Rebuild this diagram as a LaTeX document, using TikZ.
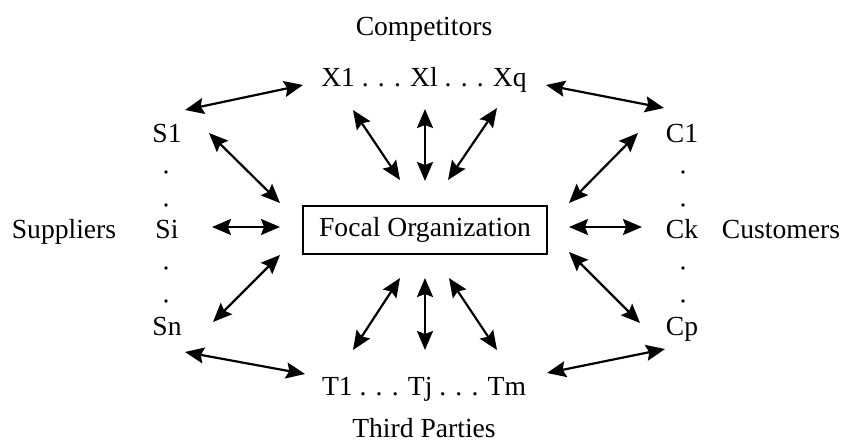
\documentclass[tikz,border=0pt]{standalone}
\usepackage{fontspec}
\setmainfont{Liberation Serif}
\usetikzlibrary{arrows.meta}
\begin{document}
\begin{tikzpicture}[x=0.5pt,y=-0.5pt,
  lbl/.style={anchor=base,inner sep=0pt,font=\fontsize{13.8}{16}\selectfont},
  tip/.style={Stealth[length=9.5pt,width=8pt,inset=1.5pt]},
  arr/.style={{Stealth[length=9.5pt,width=8pt,inset=1.5pt]}-{Stealth[length=9.5pt,width=8pt,inset=1.5pt]},line width=1.1pt},
  focal/.style={draw,line width=0.8pt,minimum width=122pt,minimum height=24pt,inner sep=0pt,font=\fontsize{13.8}{16}\selectfont},
  dotmark/.style={fill,circle,inner sep=0pt,minimum size=1.8pt}]
\useasboundingbox (0,0) rectangle (846,445);
% labels
\node[lbl] (comp) at (424,35) {Competitors};
\node[lbl] (xrow) at (424,86) {X1 . . . Xl . . . Xq};
\node[lbl] (trow) at (424,395) {T1 . . . Tj . . . Tm};
\node[lbl] (third) at (424,437) {Third Parties};
\node[lbl] (supp) at (64,238) {Suppliers};
\node[lbl] (cust) at (781,238) {Customers};
\node[lbl] (s1) at (167,142) {S1};
\node[lbl] (si) at (167,238) {Si};
\node[lbl] (sn) at (167,335) {Sn};
\node[lbl] (c1) at (682,142) {C1};
\node[lbl] (ck) at (682,238) {Ck};
\node[lbl] (cp) at (682,335) {Cp};
\node[focal] (focal) at (425,230) {Focal Organization};
% vertical dots
\foreach \yy [count=\k] in {172,205,268,301}{
  \node[dotmark] (ds\k) at (166,\yy) {};
  \node[dotmark] (dc\k) at (683,\yy) {};
}
% outer ring arrows
\draw[arr] (185,110) coordinate (o1a) -- (303,85) coordinate (o1b);
\draw[arr] (546,85) coordinate (o2a) -- (664,108) coordinate (o2b);
\draw[arr] (185,352) coordinate (o3a) -- (305,374) coordinate (o3b);
\draw[arr] (547,373) coordinate (o4a) -- (665,349) coordinate (o4b);
% top fan
\draw[arr] (353,110) coordinate (t1a) -- (400,180) coordinate (t1b);
\draw[arr] (425,109) coordinate (t2a) -- (425,181) coordinate (t2b);
\draw[arr] (497,108) coordinate (t3a) -- (448,180) coordinate (t3b);
% bottom fan
\draw[arr] (400,278) coordinate (b1a) -- (353,350) coordinate (b1b);
\draw[arr] (425,278) coordinate (b2a) -- (425,350) coordinate (b2b);
\draw[arr] (449,278) coordinate (b3a) -- (497,350) coordinate (b3b);
% left
\draw[arr] (209,133) coordinate (l1a) -- (280,203) coordinate (l1b);
\draw[arr] (212,227) coordinate (l2a) -- (280,227) coordinate (l2b);
\draw[arr] (213,322) coordinate (l3a) -- (280,255) coordinate (l3b);
% right
\draw[arr] (569,203) coordinate (r1a) -- (638,133) coordinate (r1b);
\draw[arr] (569,227) coordinate (r2a) -- (642,227) coordinate (r2b);
\draw[arr] (569,252) coordinate (r3a) -- (640,323) coordinate (r3b);
\end{tikzpicture}
\end{document}
